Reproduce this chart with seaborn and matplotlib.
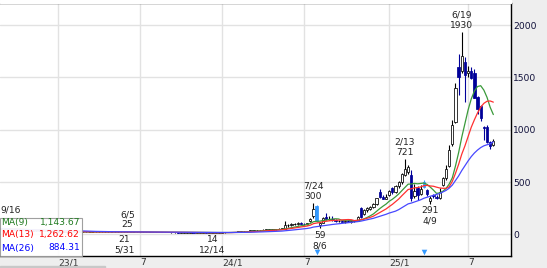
import numpy as np
import pandas as pd
import matplotlib
matplotlib.use("Agg")
import matplotlib.pyplot as plt
from matplotlib.patches import Rectangle
import seaborn as sns

# ---------------- data (weekly candles, index 0 = week of 2022-08-29) ----------------
open_ = [
    50, 54, 56, 52, 48, 45, 42, 40, 38, 36,
    34, 33, 32, 31, 30, 29, 28, 27, 27, 26,
    25, 24, 24, 23, 23, 24, 23, 23, 22, 23,
    23, 22, 23, 22, 22, 23, 22, 22, 23, 22,
    22, 23, 22, 22, 21, 21, 21, 20, 20, 20,
    20, 19, 19, 19, 18, 18, 18, 17, 17, 17,
    17, 17, 16, 16, 16, 16, 15, 15, 15, 16,
    17, 18, 19, 20, 22, 24, 26, 28, 30, 33,
    36, 38, 40, 42, 44, 45, 46, 48, 50, 52,
    55, 85, 88, 96, 100, 106, 102, 95, 125, 175,
    270, 90, 110, 165, 142, 150, 138, 125, 128, 122,
    126, 120, 125, 130, 255, 190, 228, 245, 265, 290,
    405, 355, 340, 375, 440, 400, 460, 500, 570, 600,
    570, 370, 440, 390, 450, 420, 320, 380, 360, 350,
    470, 540, 650, 860, 1070, 1600, 1560, 1645, 1540, 1560,
    1540, 1310, 1230, 1030, 1025, 880, 850]
high = [
    56, 58, 62, 55, 50, 47, 44, 42, 40, 38,
    36, 35, 34, 33, 32, 31, 30, 29, 28, 28,
    26, 25, 25, 24, 25, 25, 24, 24, 24, 24,
    24, 24, 24, 23, 24, 24, 23, 24, 24, 23,
    25, 23, 23, 22, 22, 22, 21, 21, 21, 21,
    21, 20, 20, 19, 19, 19, 18, 18, 18, 18,
    18, 17, 17, 17, 16, 16, 16, 16, 17, 18,
    19, 20, 21, 23, 25, 27, 29, 32, 35, 38,
    40, 42, 45, 47, 48, 50, 52, 55, 56, 58,
    130, 100, 105, 110, 115, 118, 112, 110, 160, 300,
    280, 115, 165, 200, 175, 175, 150, 140, 140, 135,
    138, 132, 140, 178, 265, 240, 258, 270, 300, 350,
    430, 380, 385, 420, 455, 470, 505, 590, 721, 660,
    610, 480, 460, 475, 520, 430, 370, 390, 375, 445,
    550, 660, 850, 1090, 1445, 1720, 1930, 1690, 1610, 1600,
    1580, 1320, 1240, 1035, 1040, 890, 910]
low = [
    48, 52, 52, 47, 44, 41, 39, 37, 35, 33,
    32, 31, 30, 29, 28, 27, 26, 26, 25, 24,
    23, 23, 22, 22, 22, 22, 22, 22, 22, 22,
    22, 22, 22, 22, 22, 22, 22, 22, 22, 21,
    22, 22, 21, 21, 20, 20, 20, 19, 19, 19,
    19, 18, 18, 18, 17, 17, 17, 16, 16, 16,
    16, 16, 15, 15, 15, 15, 15, 14, 15, 15,
    16, 17, 18, 19, 21, 23, 25, 27, 29, 31,
    34, 36, 38, 40, 42, 43, 44, 46, 48, 50,
    50, 70, 80, 88, 92, 95, 90, 88, 115, 160,
    115, 59, 105, 140, 135, 130, 120, 115, 118, 112,
    115, 112, 118, 125, 160, 180, 215, 235, 255, 280,
    350, 335, 335, 365, 390, 395, 440, 480, 555, 580,
    320, 350, 330, 380, 440, 370, 291, 350, 335, 340,
    460, 520, 640, 840, 1060, 1330, 1540, 1265, 1500, 1480,
    1300, 1150, 1080, 900, 870, 820, 845]
close = [
    54, 56, 52, 48, 45, 42, 40, 38, 36, 34,
    33, 32, 31, 30, 29, 28, 27, 27, 26, 25,
    24, 24, 23, 23, 24, 23, 23, 22, 23, 23,
    22, 23, 22, 22, 23, 22, 22, 23, 22, 22,
    23, 22, 22, 21, 21, 21, 20, 20, 20, 20,
    19, 19, 19, 18, 18, 18, 17, 17, 17, 17,
    17, 16, 16, 16, 16, 15, 15, 15, 16, 17,
    18, 19, 20, 22, 24, 26, 28, 30, 33, 36,
    38, 40, 42, 44, 45, 46, 48, 50, 52, 55,
    85, 90, 98, 100, 108, 100, 95, 105, 150, 240,
    125, 108, 155, 145, 150, 140, 125, 130, 122, 128,
    120, 125, 135, 170, 170, 230, 250, 265, 290, 345,
    355, 340, 355, 415, 400, 465, 500, 580, 620, 640,
    350, 410, 380, 430, 500, 385, 350, 365, 350, 400,
    540, 620, 810, 1040, 1400, 1500, 1700, 1520, 1560, 1490,
    1300, 1200, 1110, 1020, 880, 845, 895]

assert len(open_) == len(high) == len(low) == len(close)

marker_weeks = [100, 134]                 # highlighted candles / triangle markers
tick_weeks = [18, 44, 70, 96, 123, 148]
tick_labels = ["23/1", "7", "24/1", "7", "25/1", "7"]
y_ticks = [0, 500, 1000, 1500, 2000]
high_marks = [(40, "6/5"), (99, "7/24"), (128, "2/13"), (146, "6/19")]
hidden_high_mark = (2, "9/16")            # its value sits under the MA box
low_marks = [(39, "5/31"), (67, "12/14"), (101, "8/6"), (136, "4/9")]
ma_periods = [9, 13, 26]
ma_legend_values = ["1,143.67", "1,262.62", "884.31"]

# ---------------- styling ----------------
sns.set_style("white")
plt.rcParams["font.family"] = ["DejaVu Sans"]
FS = 6.6
UP_EDGE = "black"
DOWN = "#000099"
SPECIAL = "#3399ff"
MA_COLORS = ["#3a9a3a", "#ff3030", "#4848ff"]
MA_TEXT = ["#1f7a1f", "#ff0000", "#0000ff"]

df = pd.DataFrame({"week": np.arange(len(close)), "open": open_, "high": high,
                   "low": low, "close": close})
for n in ma_periods:
    df[f"MA({n})"] = df["close"].rolling(n, min_periods=1).mean()

fig = plt.figure(figsize=(5.47, 2.68), dpi=100, facecolor="#eeeeee")
ax = fig.add_axes([0, 12 / 268, 511 / 547, 253.5 / 268])
ax.set_facecolor("white")

fig.patches.append(Rectangle((0, 265.5 / 268), 511 / 547, 2.5 / 268,
                             transform=fig.transFigure, color="white", zorder=0))
fig.patches.append(Rectangle((0, 0), 105 / 547, 2.5 / 268,
                             transform=fig.transFigure, color="#c8c8c8", zorder=0))

ax.set_xlim(-0.34, 161.6)
ax.set_ylim(-207, 2215)

ax.set_axisbelow(True)
ax.grid(True, color="#e2e2e2", lw=1.0)

# ---------------- candles ----------------
is_special = df["week"].isin(marker_weeks)
is_up = df["close"] >= df["open"]
body_bottom = np.minimum(df["open"], df["close"])
body_h = np.maximum(np.abs(df["close"] - df["open"]), 4)

groups = [
    (is_up & ~is_special, "white", UP_EDGE, UP_EDGE),
    (~is_up & ~is_special, DOWN, DOWN, DOWN),
    (is_special, SPECIAL, SPECIAL, SPECIAL),
]
for mask, face, edge, wick in groups:
    sub = df[mask]
    ax.vlines(sub["week"], sub["low"], sub["high"], color=wick, lw=0.8, zorder=2)
    ax.bar(sub["week"], body_h[mask], bottom=body_bottom[mask], width=0.72,
           color=face, edgecolor=edge, linewidth=0.55, zorder=3)

# ---------------- moving averages ----------------
for n, col in zip(ma_periods, MA_COLORS):
    sns.lineplot(data=df, x="week", y=f"MA({n})", color=col, lw=0.9, ax=ax,
                 zorder=4, legend=False)

# ---------------- markers ----------------
ax.scatter(marker_weeks, [0.0146] * len(marker_weeks), marker="v", s=16,
           color=SPECIAL, transform=ax.get_xaxis_transform(), zorder=6,
           clip_on=False, linewidths=0)

# ---------------- high / low annotations ----------------
for w, lab in high_marks:
    ax.annotate(f"{lab}\n{high[w]}", xy=(w, high[w]), xytext=(0, 1.6),
                textcoords="offset points", ha="center", va="bottom",
                fontsize=FS, color="#222222", zorder=7)
w, lab = hidden_high_mark
ax.annotate(lab, xy=(w, high[w]), xytext=(2.2, 9.6),
            textcoords="offset points", ha="center", va="bottom",
            fontsize=FS, color="#222222", zorder=7)
for w, lab in low_marks:
    ax.annotate(f"{low[w]}\n{lab}", xy=(w, low[w]), xytext=(0, -1.8),
                textcoords="offset points", ha="center", va="top",
                fontsize=FS, color="#222222", zorder=7)

# ---------------- axes ----------------
ax.set_xticks(tick_weeks)
ax.set_xticklabels(tick_labels, ha="left")
ax.tick_params(axis="x", length=0, pad=1.5, labelsize=FS, labelcolor="#333333")
ax.yaxis.tick_right()
ax.set_yticks(y_ticks)
ax.tick_params(axis="y", length=0, pad=1.5, labelsize=FS, labelcolor="#10103a")
ax.set_xlabel("")
ax.set_ylabel("")
ax.spines["left"].set_visible(False)
for s in ["top", "right", "bottom"]:
    ax.spines[s].set_visible(True)
    ax.spines[s].set_color("black")
    ax.spines[s].set_linewidth(1.0)

# ---------------- MA legend box ----------------
ax.add_patch(Rectangle((0, 0), 82 / 511, 38 / 253.5, transform=ax.transAxes,
                       facecolor="white", edgecolor="#999999", lw=0.8,
                       alpha=0.93, zorder=10, clip_on=False))
row_y = [34 / 253.5, 21 / 253.5, 8 / 253.5]
for n, val, tc, yy in zip(ma_periods, ma_legend_values, MA_TEXT, row_y):
    ax.text(0.003, yy, f"MA({n})", transform=ax.transAxes, ha="left",
            va="center", fontsize=FS, color=tc, zorder=11)
    ax.text(80 / 511, yy, val, transform=ax.transAxes, ha="right",
            va="center", fontsize=FS, color=tc, zorder=11)

fig.savefig("out.png", dpi=100, facecolor=fig.get_facecolor())
